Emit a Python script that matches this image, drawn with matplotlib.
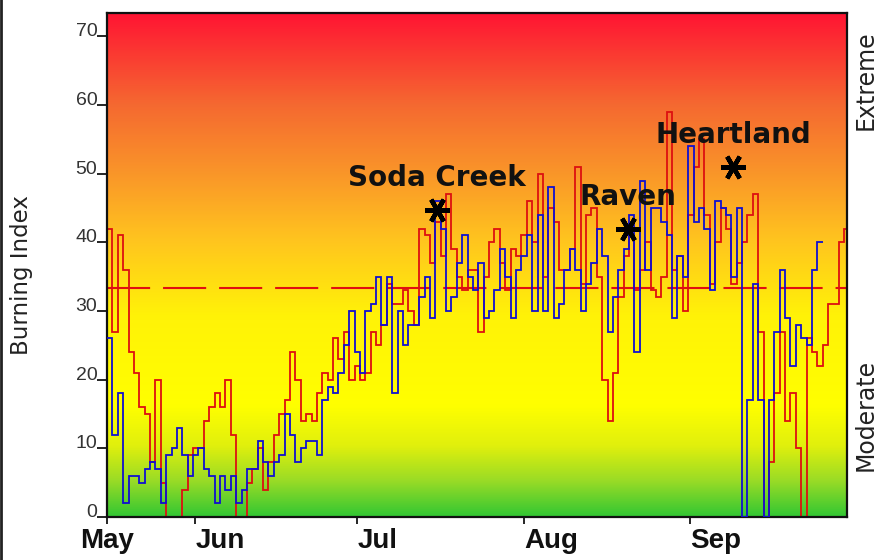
import numpy as np
import matplotlib
matplotlib.use('Agg')
import matplotlib.pyplot as plt
from matplotlib.colors import LinearSegmentedColormap
from matplotlib.lines import Line2D

# Daily Burning Index, day 0 = May 16
red_bi = [42, 27, 41, 36, 24, 21, 16, 15, 8, 20,
          5, 0, 0, 0, 4, 9, 10, 10, 14, 16,
          18, 16, 20, 12, 0, 0, 5, 7, 10, 4,
          8, 12, 15, 17, 24, 20, 14, 15, 14, 18,
          21, 20, 26, 23, 27, 20, 22, 20, 21, 27,
          25, 28, 34, 31, 31, 33, 30, 28, 42, 41,
          37, 43, 38, 47, 39, 35, 33, 36, 36, 27,
          35, 40, 42, 37, 33, 39, 38, 41, 46, 40,
          50, 35, 45, 43, 36, 36, 39, 51, 34, 44,
          45, 35, 20, 14, 21, 32, 38, 41, 33, 36,
          40, 33, 32, 35, 59, 36, 38, 30, 44, 51,
          55, 44, 34, 40, 45, 42, 34, 37, 40, 44,
          47, 27, 0, 8, 18, 27, 14, 18, 10, 0,
          26, 24, 22, 25, 31, 31, 40, 42]
blue_bi = [26, 12, 18, 2, 6, 6, 5, 7, 8, 7,
           2, 9, 10, 13, 9, 6, 9, 10, 7, 6,
           2, 6, 4, 6, 2, 4, 7, 7, 11, 8,
           6, 8, 9, 15, 12, 8, 10, 11, 11, 9,
           17, 19, 18, 21, 25, 30, 24, 21, 30, 31,
           35, 28, 35, 18, 30, 25, 28, 28, 32, 35,
           29, 46, 42, 30, 32, 37, 41, 35, 33, 37,
           29, 30, 33, 39, 35, 29, 36, 38, 41, 30,
           44, 30, 48, 29, 31, 36, 39, 36, 30, 34,
           37, 42, 38, 27, 32, 36, 39, 44, 24, 49,
           36, 45, 45, 43, 41, 29, 38, 35, 54, 43,
           45, 42, 33, 46, 45, 44, 35, 45, 0, 17,
           34, 17, 0, 17, 27, 36, 29, 22, 28, 26,
           25, 36, 40]
threshold = 33.3

month_labels = ['May', 'Jun', 'Jul', 'Aug', 'Sep']
month_days = [0, 16.4, 46.5, 77.5, 108.4]

fire_names = ['Soda Creek', 'Raven', 'Heartland']
fire_days = [61.3, 96.8, 116.4]
fire_bi = [44.7, 41.9, 51.0]

x_max = 137.5
y_max = 73.4

bg_cmap = LinearSegmentedColormap.from_list('bi', [
    (0.00, (0.20, 0.78, 0.20)),
    (0.07, (0.60, 0.86, 0.15)),
    (0.14, (0.88, 0.94, 0.05)),
    (0.22, (1.00, 1.00, 0.00)),
    (0.40, (1.00, 0.95, 0.03)),
    (0.55, (1.00, 0.77, 0.12)),
    (0.68, (0.98, 0.59, 0.16)),
    (0.82, (0.96, 0.41, 0.19)),
    (1.00, (1.00, 0.08, 0.20)),
])

fig = plt.figure(figsize=(8.77, 5.60), dpi=100)
ax = fig.add_axes([107 / 877, 1 - 517 / 560, 740 / 877, 504 / 560])

ax.imshow(np.linspace(0, 1, 256).reshape(-1, 1), extent=[0, x_max, 0, y_max],
          origin='lower', aspect='auto', cmap=bg_cmap, zorder=0)

ax.axhline(threshold, color='#e01010', lw=1.5, dashes=(20.7, 6.2), zorder=1)

ax.stairs(red_bi, np.arange(len(red_bi) + 1), baseline=None,
          color='#dd1010', lw=1.3, zorder=2)
ax.stairs(blue_bi, np.arange(len(blue_bi) + 1), baseline=None,
          color='#1010d0', lw=1.3, zorder=3)

for name, d, v in zip(fire_names, fire_days, fire_bi):
    ax.plot(d, v, marker=(6, 2, 90), ms=18, mew=3.2, color='black', zorder=5)
    ax.annotate(name, (d, v), xytext=(0, 23), textcoords='offset points',
                ha='center', va='center', fontsize=20, fontweight='bold',
                family='DejaVu Sans', color='#111111', zorder=6)

ax.set_xlim(0, x_max)
ax.set_ylim(0, y_max)

ax.set_yticks(range(0, 71, 10))
ax.set_yticklabels([str(v) for v in range(0, 71, 10)], fontsize=14,
                   color='#333333', family='Liberation Sans')
for lbl in ax.get_yticklabels():
    lbl.set_verticalalignment('baseline')
ax.tick_params(axis='y', direction='out', length=7, width=1.2, pad=0)

ax.set_xticks(month_days)
ax.set_xticklabels(month_labels, fontsize=20, fontweight='bold',
                   family='Liberation Sans', color='#111111')
for i, lbl in enumerate(ax.get_xticklabels()):
    lbl.set_horizontalalignment('center' if i == 0 else 'left')
ax.tick_params(axis='x', direction='out', length=5, width=1.2, pad=3)

for s in ax.spines.values():
    s.set_linewidth(1.6)
    s.set_color('#111111')

ax.set_ylabel('Burning Index', fontsize=16.5, family='DejaVu Sans',
              color='#222222')
ax.yaxis.set_label_coords(-0.1, 0.48)

fig.text(866 / 877, 1 - 80 / 560, 'Extreme', rotation=90, ha='center',
         va='center', fontsize=17, family='DejaVu Sans', color='#222222')
fig.text(866 / 877, 1 - 415 / 560, 'Moderate', rotation=90, ha='center',
         va='center', fontsize=17, family='DejaVu Sans', color='#222222')

fig.add_artist(Line2D([0.001, 0.001], [0, 1], color='#222222', lw=2))

fig.savefig('out.png', dpi=100, facecolor='white')
